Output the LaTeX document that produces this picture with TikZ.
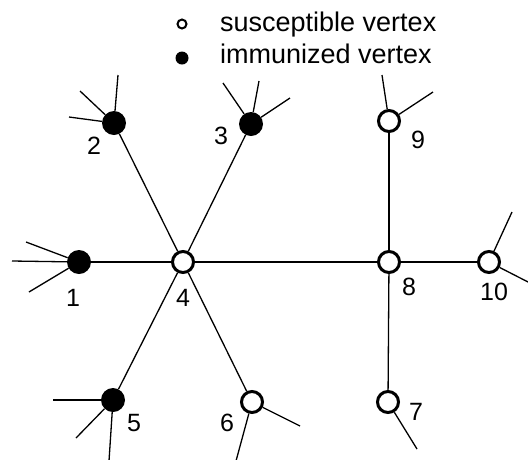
\documentclass[tikz,border=0pt]{standalone}
\usepackage{fontspec}
\setmainfont{Liberation Sans}
\begin{document}
\begin{tikzpicture}[x=1pt,y=-1pt,
  imm/.style={circle,fill=black,inner sep=0pt,minimum size=24pt},
  sus/.style={circle,draw=black,line width=3pt,fill=white,inner sep=0pt,minimum size=21pt},
  edge/.style={line width=1.3pt,black},
  lab/.style={inner sep=0pt,font=\fontsize{25}{30}\selectfont},
  legtext/.style={inner sep=0pt,anchor=base west,font=\fontsize{27}{32}\selectfont}]
\useasboundingbox (0,0) rectangle (528,459);
% legend
\node[circle,draw=black,line width=2pt,fill=white,inner sep=0pt,minimum size=9pt] (ls) at (182,24) {};
\node[circle,fill=black,inner sep=0pt,minimum size=13pt] (li) at (182,58) {};
\node[legtext] (lst) at (220,31) {susceptible vertex};
\node[legtext] (lit) at (220,63) {immunized vertex};
% vertices
\node[imm] (n1) at (79,262) {};
\node[imm] (n2) at (114,123) {};
\node[imm] (n3) at (251,124) {};
\node[sus] (n4) at (183,262) {};
\node[imm] (n5) at (113,400) {};
\node[sus] (n6) at (252,402) {};
\node[sus] (n7) at (388,402) {};
\node[sus] (n8) at (389,262) {};
\node[sus] (n9) at (389,121) {};
\node[sus] (n10) at (489,262) {};
% labels
\node[lab] (t1) at (73,298) {1};
\node[lab] (t2) at (94,146) {2};
\node[lab] (t3) at (221,136) {3};
\node[lab] (t4) at (183,298) {4};
\node[lab] (t5) at (134,423) {5};
\node[lab] (t6) at (227,423) {6};
\node[lab] (t7) at (416,412) {7};
\node[lab] (t8) at (409,287) {8};
\node[lab] (t9) at (418,140) {9};
\node[lab] (t10) at (494,292) {10};
% edges
\draw[edge] (n1) -- (n4);
\draw[edge] (n4) -- (n8);
\draw[edge] (n8) -- (n10);
\draw[edge] (n2) -- (n4);
\draw[edge] (n3) -- (n4);
\draw[edge] (n5) -- (n4);
\draw[edge] (n6) -- (n4);
\draw[edge] (n9) -- (n8);
\draw[edge] (n7) -- (n8);
% stub end points
\coordinate (a1) at (26,242);
\coordinate (a2) at (12,261);
\coordinate (a3) at (29,292);
\coordinate (b1) at (118,75);
\coordinate (b2) at (80,91);
\coordinate (b3) at (69,117);
\coordinate (c1) at (223,83);
\coordinate (c2) at (259,81);
\coordinate (c3) at (290,98);
\coordinate (d1) at (382,75);
\coordinate (d2) at (433,92);
\coordinate (e1) at (512,212);
\coordinate (e2) at (530,283);
\coordinate (f1) at (53,400);
\coordinate (f2) at (76,438);
\coordinate (f3) at (109,461);
\coordinate (g1) at (300,426);
\coordinate (g2) at (236,461);
\coordinate (h1) at (417,449);
% stubs
\draw[edge] (n1) -- (a1);
\draw[edge] (n1) -- (a2);
\draw[edge] (n1) -- (a3);
\draw[edge] (n2) -- (b1);
\draw[edge] (n2) -- (b2);
\draw[edge] (n2) -- (b3);
\draw[edge] (n3) -- (c1);
\draw[edge] (n3) -- (c2);
\draw[edge] (n3) -- (c3);
\draw[edge] (n9) -- (d1);
\draw[edge] (n9) -- (d2);
\draw[edge] (n10) -- (e1);
\draw[edge] (n10) -- (e2);
\draw[edge] (n5) -- (f1);
\draw[edge] (n5) -- (f2);
\draw[edge] (n5) -- (f3);
\draw[edge] (n6) -- (g1);
\draw[edge] (n6) -- (g2);
\draw[edge] (n7) -- (h1);
\end{tikzpicture}
\end{document}
